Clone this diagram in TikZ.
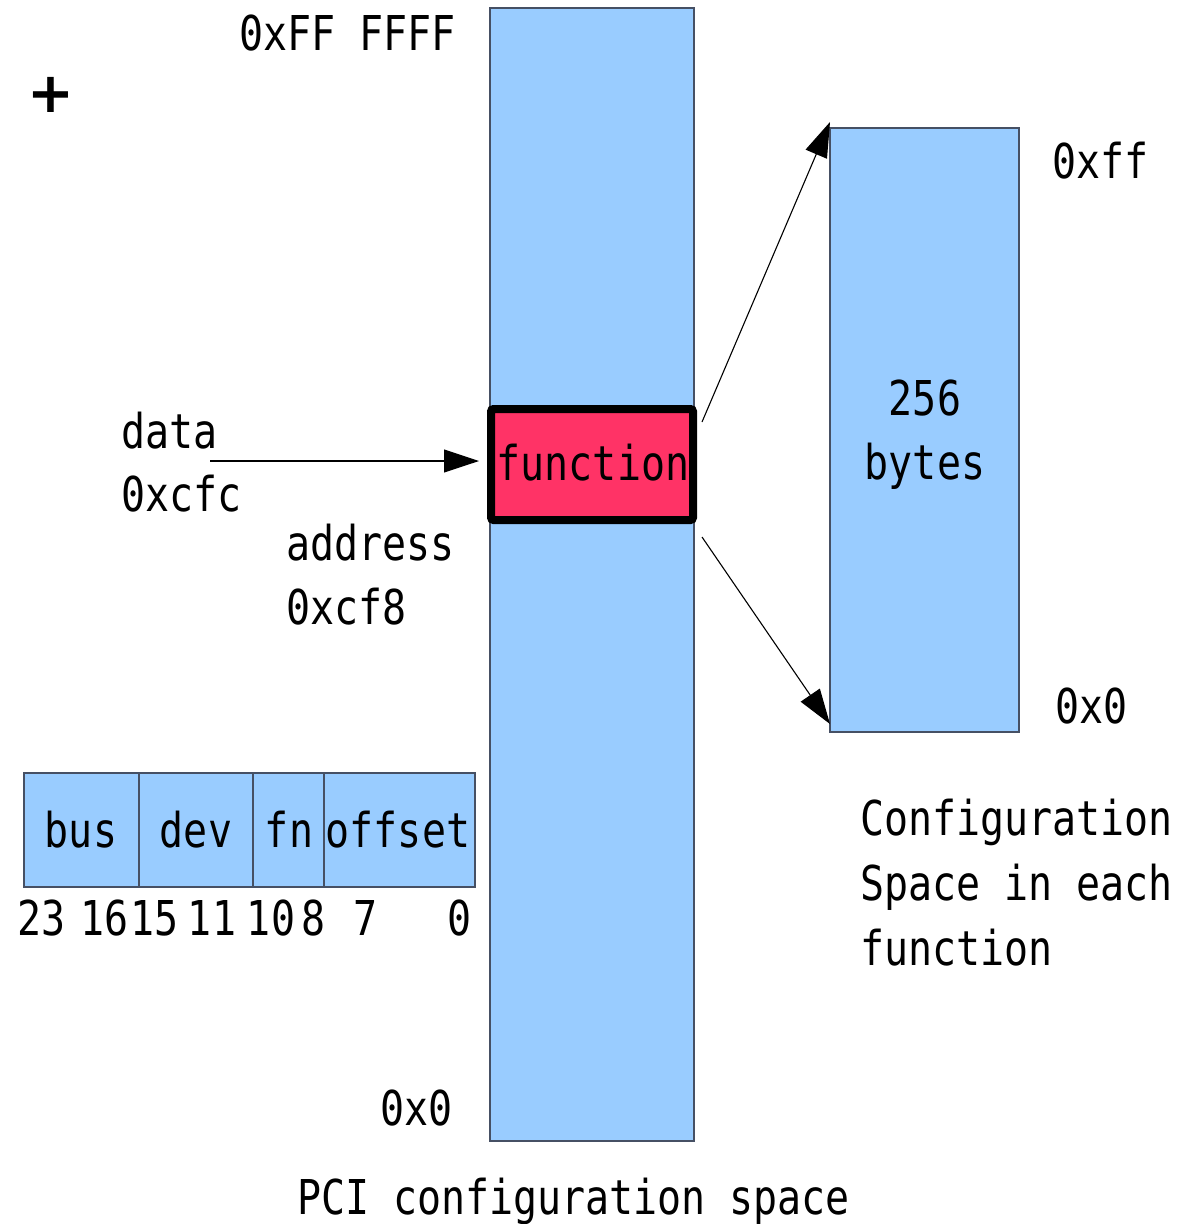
\documentclass[tikz,border=0pt]{standalone}
\usepackage{fontspec}
\usetikzlibrary{arrows.meta,calc}
\newfontfamily\mono[FakeStretch=0.832]{DejaVu Sans Mono}
\newfontfamily\plusfont{DejaVu Sans}
\definecolor{memblue}{HTML}{99CCFF}
\definecolor{funcpink}{HTML}{FF3366}
\definecolor{edgegray}{RGB}{70,80,100}
\tikzset{
  txt/.style={inner sep=0pt, outer sep=0pt, anchor=base west, font=\mono\fontsize{48}{58}\selectfont},
  ctxt/.style={txt, anchor=base},
  membox/.style={draw=edgegray, line width=1.3pt, fill=memblue, inner sep=0pt, outer sep=0pt, anchor=north west},
  arr/.style={line width=1.1pt, -{Triangle[length=35pt,width=23pt]}}
}
\begin{document}
\begin{tikzpicture}[x=1pt,y=-1pt]
\useasboundingbox (0,0) rectangle (1180,1224);
% PCI configuration space column
\node[membox, minimum width=204pt, minimum height=1133pt] (col) at (490,8) {};
% right box
\node[membox, minimum width=189pt, minimum height=604pt] (rbox) at (830,128) {};
% function box
\node[draw=black, line width=8pt, rounded corners=2.5pt, fill=funcpink, minimum width=202pt, minimum height=111pt, inner sep=0pt, outer sep=0pt, anchor=north west] (func) at (491,409) {};
\node[ctxt] (functxt) at (593,480) {function};
% bit field boxes
\node[membox, minimum width=115pt, minimum height=114pt] (bus) at (24,773) {};
\node[membox, minimum width=114pt, minimum height=114pt] (dev) at (139,773) {};
\node[membox, minimum width=71pt, minimum height=114pt] (fn) at (253,773) {};
\node[membox, minimum width=151pt, minimum height=114pt] (off) at (324,773) {};
\node[ctxt] (bustxt) at (81,847) {bus};
\node[ctxt] (devtxt) at (196,847) {dev};
\node[ctxt] (fntxt) at (289,847) {fn};
\node[ctxt] (offtxt) at (398,847) {offset};
% bit numbers
\node[ctxt] (b23) at (42,935) {23};
\node[ctxt] (b16) at (105,935) {16};
\node[ctxt] (b15) at (155,935) {15};
\node[ctxt] (b11) at (212,935) {11};
\node[ctxt] (b10) at (271,935) {10};
\node[ctxt] (b8) at (314,935) {8};
\node[ctxt] (b7) at (366,935) {7};
\node[ctxt] (b0) at (460,935) {0};
% labels
\node[font=\plusfont\bfseries\fontsize{56}{64}\selectfont, inner sep=0pt] (plus) at (51,95) {+};
\node[txt] (top) at (239,50) {0xFF FFFF};
\node[txt] (data) at (121,448) {data};
\node[txt] (cfc) at (121,511) {0xcfc};
\node[txt] (addr) at (286,560) {address};
\node[txt] (cf8) at (286,624) {0xcf8};
\node[txt] (bot) at (380,1125) {0x0};
\node[txt] (xff) at (1052,178) {0xff};
\node[txt] (rx0) at (1055,723) {0x0};
\node[ctxt] (n256) at (925,415) {256};
\node[ctxt] (bytes) at (925,479) {bytes};
\node[txt] (cs1) at (860,835) {Configuration};
\node[txt] (cs2) at (860,900) {Space in each};
\node[txt] (cs3) at (860,965) {function};
\node[txt] (pci) at (297,1214) {PCI configuration space};
% connectors
\coordinate (dstart) at (210,461);
\draw[arr] (dstart) -- ($(func.west |- dstart)+(-12pt,0)$);
\draw[arr] ($(func.north east)+(9pt,-13pt)$) -- ($(rbox.north west)+(0,6pt)$);
\draw[arr] ($(func.south east)+(9pt,-17pt)$) -- ($(rbox.south west)+(0,8pt)$);
\end{tikzpicture}
\end{document}
